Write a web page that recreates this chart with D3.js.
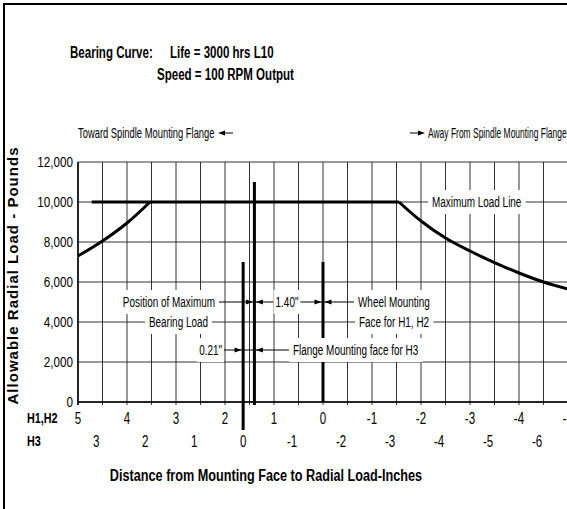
<!DOCTYPE html>
<html>
<head>
<meta charset="utf-8">
<script src="https://cdn.jsdelivr.net/npm/d3@7"></script>
<style>
    body { margin: 0; background: #fff; }
    svg { display: block; }
    text { font-family: "Liberation Sans", Arial, sans-serif; fill: #000; }
</style>
</head>
<body>
<svg id="chart" width="567" height="509"></svg>
<script>
// values
const yTicks = [0, 2000, 4000, 6000, 8000, 10000, 12000];
const h1Ticks = [5, 4, 3, 2, 1, 0, -1, -2, -3, -4, -5];
const h3Ticks = [3, 2, 1, 0, -1, -2, -3, -4, -5, -6];
const gridSteps = [5, 4.5, 4, 3.5, 3, 2.5, 2, 1.5, 1, 0.5, 0, -0.5, -1, -1.5, -2, -2.5, -3, -3.5, -4, -4.5];
const h3Offset = 1.63;             // H3 zero sits here on the H1,H2 scale
const maxLoad = 10000;
const maxLoadSpan = [4.72, -1.55];
const leftCurve = [[5, 7300], [4.5, 8050], [4, 8950], [3.53, 10000]];
const rightCurve = [[-1.55, 10000], [-2, 9050], [-2.5, 8200], [-3, 7550], [-3.5, 6970], [-4, 6450], [-4.5, 6000], [-5, 5650]];
const maxBearingPos = 1.40;        // position of maximum bearing load
const wheelFacePos = 0;            // wheel mounting face for H1, H2
const flangeH3Pos = 0;             // flange mounting face for H3 (H3 scale)

const svg = d3.select('#chart');
const x = d3.scaleLinear().domain([5, -5]).range([78, 568]);
const y = d3.scaleLinear().domain([0, 12000]).range([402, 162]);
const xH3 = v => x(v + h3Offset);

// outer frame (only top and left visible)
svg.append('path').attr('d', 'M4,512V4H570').attr('fill', 'none').attr('stroke', '#000').attr('stroke-width', 2);

// helper for condensed looking text, optional white box behind it
function label(parent, px, py, str, o) {
    o = Object.assign({size: 14, weight: 'normal', sx: 0.71, anchor: 'start', box: false, padX: 4, boxH: 24}, o || {});
    const g = parent.append('g').attr('transform', `translate(${px},${py})`);
    const rect = o.box ? g.append('rect').attr('fill', '#fff') : null;
    const t = g.append('text')
        .attr('transform', `scale(${o.sx},1)`)
        .attr('text-anchor', o.anchor)
        .attr('dy', '0.35em')
        .style('font-size', o.size + 'px')
        .style('font-weight', o.weight)
        .text(str);
    if (rect) {
        const bb = t.node().getBBox();
        rect.attr('x', bb.x * o.sx - o.padX).attr('y', -o.boxH / 2)
            .attr('width', bb.width * o.sx + 2 * o.padX).attr('height', o.boxH);
    }
    return g;
}

function arrowHead(parent, tipX, tipY, dir) {
    parent.append('path')
        .attr('d', `M${tipX},${tipY}L${tipX - dir * 7},${tipY - 2.5}L${tipX - dir * 7},${tipY + 2.5}Z`)
        .attr('fill', '#000');
}

// grid
const grid = svg.append('g').attr('stroke', '#333').attr('stroke-width', 1);
grid.selectAll('.v').data(gridSteps).enter().append('line')
    .attr('x1', d => x(d)).attr('x2', d => x(d))
    .attr('y1', y(12000)).attr('y2', y(0) + 3);
grid.selectAll('.h').data(yTicks).enter().append('line')
    .attr('x1', x(5)).attr('x2', 567)
    .attr('y1', d => y(d)).attr('y2', d => y(d));
svg.append('line').attr('x1', x(5)).attr('x2', x(5)).attr('y1', y(12000)).attr('y2', y(0) + 3)
    .attr('stroke', '#000').attr('stroke-width', 1.5);
svg.append('line').attr('x1', x(5)).attr('x2', 567).attr('y1', y(0)).attr('y2', y(0))
    .attr('stroke', '#000').attr('stroke-width', 1.5);

// load curves
const line = d3.line().x(d => x(d[0])).y(d => y(d[1])).curve(d3.curveCatmullRom);
svg.selectAll('.curve').data([leftCurve, rightCurve]).enter().append('path')
    .attr('d', line).attr('fill', 'none').attr('stroke', '#000').attr('stroke-width', 3);
svg.append('line')
    .attr('x1', x(maxLoadSpan[0])).attr('x2', x(maxLoadSpan[1]))
    .attr('y1', y(maxLoad)).attr('y2', y(maxLoad))
    .attr('stroke', '#000').attr('stroke-width', 3);

// marker lines
const marks = svg.append('g').attr('stroke', '#000').attr('stroke-width', 3);
marks.append('line').attr('x1', x(maxBearingPos)).attr('x2', x(maxBearingPos)).attr('y1', y(11000)).attr('y2', y(0) + 3);
marks.append('line').attr('x1', x(wheelFacePos)).attr('x2', x(wheelFacePos)).attr('y1', y(7000)).attr('y2', y(0));
marks.append('line').attr('x1', xH3(flangeH3Pos)).attr('x2', xH3(flangeH3Pos)).attr('y1', y(7000)).attr('y2', y(0) + 28);

// dimension lines
const dim = svg.append('g');
const dimY1 = y(5000), dimY2 = y(2600);
dim.append('line').attr('x1', 216).attr('x2', 358).attr('y1', dimY1).attr('y2', dimY1).attr('stroke', '#000');
arrowHead(dim, x(maxBearingPos) - 1.5, dimY1, 1);
arrowHead(dim, x(maxBearingPos) + 1.5, dimY1, -1);
arrowHead(dim, x(wheelFacePos) - 1.5, dimY1, 1);
arrowHead(dim, x(wheelFacePos) + 1.5, dimY1, -1);
dim.append('line').attr('x1', 222).attr('x2', 292).attr('y1', dimY2).attr('y2', dimY2).attr('stroke', '#000');
arrowHead(dim, xH3(flangeH3Pos) - 1.5, dimY2, 1);
arrowHead(dim, x(maxBearingPos) + 1.5, dimY2, -1);

// annotation labels
label(svg, 215, dimY1, 'Position of Maximum', {anchor: 'end', box: true});
label(svg, 208, y(4000), 'Bearing Load', {anchor: 'end', box: true});
label(svg, 287, dimY1, '1.40"', {anchor: 'middle', box: true, padX: 2});
label(svg, 358, dimY1, 'Wheel Mounting', {box: true});
label(svg, 359, y(4000), 'Face for H1, H2', {box: true});
label(svg, 222, dimY2, '0.21"', {anchor: 'end', box: true, padX: 2});
label(svg, 293, dimY2, 'Flange Mounting face for H3', {box: true});
label(svg, 432, y(maxLoad), 'Maximum Load Line', {box: true});

// direction notes
label(svg, 78, 133, 'Toward Spindle Mounting Flange', {sx: 0.67});
svg.append('line').attr('x1', 222).attr('x2', 233).attr('y1', 133).attr('y2', 133).attr('stroke', '#000');
arrowHead(svg, 218, 133, -1);
svg.append('line').attr('x1', 410).attr('x2', 421).attr('y1', 133).attr('y2', 133).attr('stroke', '#000');
arrowHead(svg, 425, 133, 1);
label(svg, 428, 133, 'Away From Spindle Mounting Flange', {sx: 0.605});

// title
label(svg, 70, 52, 'Bearing Curve:', {size: 17, weight: 'bold', sx: 0.68});
label(svg, 170, 52, 'Life = 3000 hrs L10', {size: 17, weight: 'bold', sx: 0.68});
label(svg, 157, 74, 'Speed = 100 RPM Output', {size: 17, weight: 'bold', sx: 0.68});

// y tick labels
const fmt = d3.format(',');
yTicks.forEach(v => label(svg, 73, y(v), fmt(v), {anchor: 'end', size: 15, sx: 0.78}));

// x tick labels, two rows
h1Ticks.forEach(v => label(svg, x(v), 418, String(v), {anchor: 'middle', size: 16, sx: 0.72}));
h3Ticks.forEach(v => label(svg, xH3(v), 441, String(v), {anchor: 'middle', size: 16, sx: 0.72}));
label(svg, 27, 418, 'H1,H2', {size: 15, weight: 'bold', sx: 0.72});
label(svg, 27, 441, 'H3', {size: 15, weight: 'bold', sx: 0.72});

// axis titles
label(svg, 266, 475, 'Distance from Mounting Face to Radial Load-Inches', {anchor: 'middle', size: 17, weight: 'bold', sx: 0.745});
svg.append('text')
    .attr('transform', 'translate(13,276) rotate(-90)')
    .attr('text-anchor', 'middle')
    .attr('dy', '0.35em')
    .attr('textLength', 257)
    .attr('lengthAdjust', 'spacing')
    .style('font-size', '15px')
    .style('font-weight', 'bold')
    .text('Allowable Radial Load - Pounds');
</script>
</body>
</html>
